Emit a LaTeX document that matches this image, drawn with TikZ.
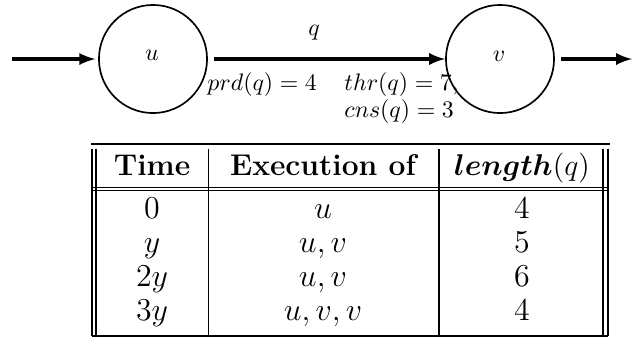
\RequirePackage{fix-cm}
\documentclass[tikz,border=0pt]{standalone}
\usepackage{amsmath, amssymb}
\usepackage{tikz}
\usetikzlibrary{
  calc,%
  arrows,
  positioning
}
\tikzset{>=latex}
\tikzset{font=\normalsize}
\tikzset{actor/.style={circle, draw, line width=0.7pt, minimum size=45.4pt, inner sep=0pt},
  chan/.style={->, line width=1.3pt},
  tabline/.style={line width=0.6pt},
  hcell/.style={anchor=base, inner sep=0pt, font=\fontsize{12.6}{15}\selectfont\bfseries},
  bcell/.style={anchor=base, inner sep=0pt, font=\fontsize{13.4}{16}\selectfont}}

\begin{document}
\begin{tikzpicture}[x=0.42pt, y=-0.42pt]
  \useasboundingbox (0,0) rectangle (632,346);
  % actors of the graph
  \node[actor] (u) at (153,59) {};
  \node[actor] (v) at (500,59) {};
  \node[anchor=base, inner sep=0pt] (ulab) at (152,60) {$u$};
  \node[anchor=base, inner sep=0pt] (vlab) at (499,61) {$v$};
  \coordinate (src) at (12,59);
  \coordinate (snk) at (632,59);
  % channel q and its rates
  \draw[chan, shorten >=1.2pt] (src) -- (u);
  \draw[chan, shorten <=2.5pt] (u) -- (v);
  \draw[chan, shorten <=2.5pt] (v) -- (snk);
  \node[anchor=base, inner sep=0pt] (qlab) at (314,35) {$q$};
  \node[anchor=base west, inner sep=0pt] (prd) at (207,90) {$prd(q) = 4$};
  \node[anchor=base west, inner sep=0pt] (thr) at (344,90) {$thr(q) = 7,$};
  \node[anchor=base west, inner sep=0pt] (cns) at (344,117) {$cns(q) = 3$};
  % table
  \draw[tabline] (91,144) -- (610,144);
  \foreach \x in {92,96,208.5,439,603,608}
    \draw[tabline] (\x,148.5) -- (\x,336);
  \draw[tabline] (92,187.5) -- (608,187.5);
  \draw[tabline] (92,190.5) -- (608,190.5);
  \draw[tabline] (92,336) -- (608,336);
  \node[hcell] (htime) at (152,175) {Time};
  \node[hcell] (hexec) at (323,175) {Execution of};
  \node[hcell] (hlen) at (522,175) {$\boldsymbol{length}(q)$};
  \foreach \t/\e/\l/\y in {0/u/4/218, y/{u,v}/5/252, 2y/{u,v}/6/286, 3y/{u,v,v}/4/320} {
    \node[bcell] (t\y) at (152,\y) {$\t$};
    \node[bcell] (e\y) at (323,\y) {$\e$};
    \node[bcell] (l\y) at (522,\y) {$\l$};
  }
\end{tikzpicture}
\end{document}
